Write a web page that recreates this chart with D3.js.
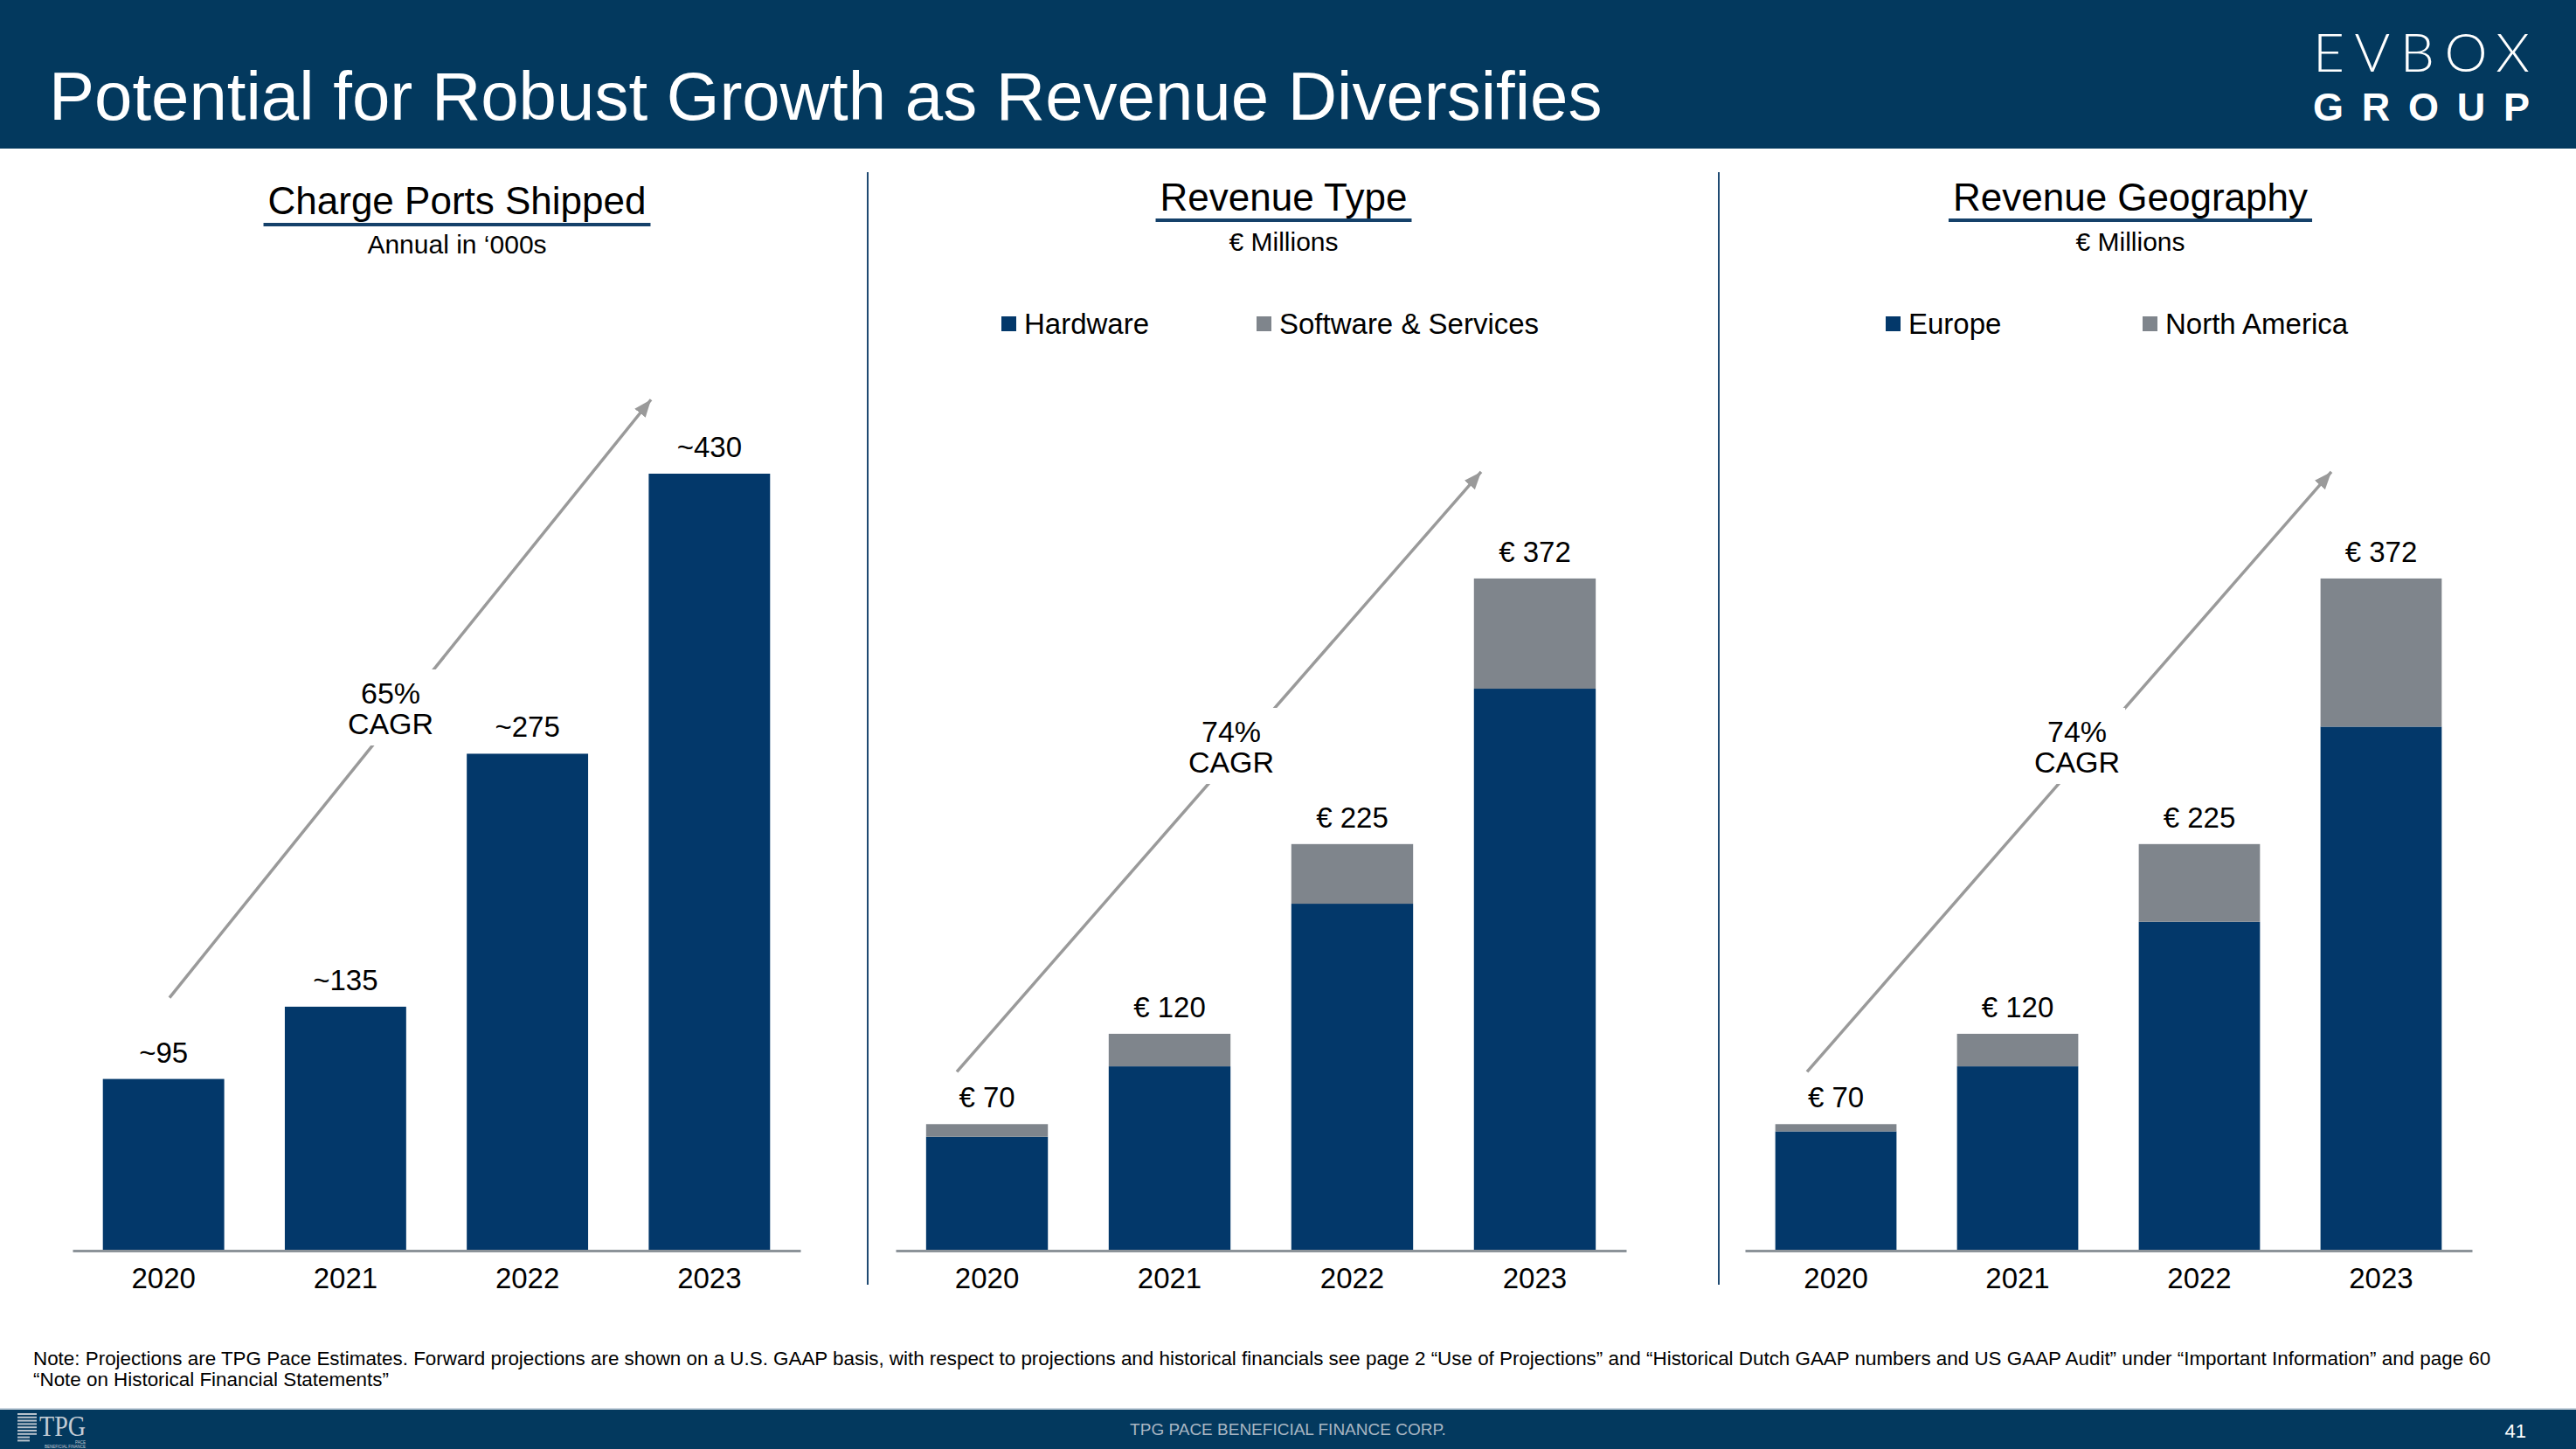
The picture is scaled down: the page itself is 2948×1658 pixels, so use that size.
<!DOCTYPE html>
<html><head><meta charset="utf-8">
<script src="https://cdn.jsdelivr.net/npm/d3@7"></script>
<style>html,body{margin:0;padding:0;background:#fff;} svg{display:block;font-family:"Liberation Sans",Arial,Helvetica,sans-serif;}</style>
</head><body>
<script>
// ---------------- DATA ----------------
const years = ["2020", "2021", "2022", "2023"];
const portsShipped = [95, 135, 275, 430];
const portsLabels = ["~95", "~135", "~275", "~430"];
const hardware = [63, 102, 192, 311];
const softwareServices = [7, 18, 33, 61];
const europe = [66, 102, 182, 290];
const northAmerica = [4, 18, 43, 82];
const revenueTotals = [70, 120, 225, 372];
const revenueLabels = ["€ 70", "€ 120", "€ 225", "€ 372"];
const cagrLabels = ["65%", "74%", "74%"];
const typeLegend = ["Hardware", "Software & Services"];
const geoLegend = ["Europe", "North America"];
const chartTitles = ["Charge Ports Shipped", "Revenue Type", "Revenue Geography"];
const chartSubtitles = ["Annual in \u2018000s", "€ Millions", "€ Millions"];

// ---------------- STYLE ----------------
const W = 2948, H = 1658;
const NAVY = "#03386a", GRAY = "#7f858c", HEAD = "#03395e", ARROW = "#9a9a9a";

const svg = d3.select("body").append("svg").attr("width", W).attr("height", H);

// header
svg.append("rect").attr("x", 0).attr("y", 0).attr("width", W).attr("height", 170).attr("fill", HEAD);
svg.append("text").attr("x", 56).attr("y", 137).attr("fill", "#fff").attr("font-size", 78)
  .text("Potential for Robust Growth as Revenue Diversifies");
svg.append("text").attr("x", 2647).attr("y", 82).attr("fill", "#fff")
  .attr("font-family", "Lato, 'Open Sans', sans-serif").attr("font-size", 62).attr("font-weight", 300)
  .attr("textLength", 248).attr("lengthAdjust", "spacing").text("EVBOX");
svg.append("text").attr("x", 2647).attr("y", 138).attr("fill", "#fff")
  .attr("font-family", "'Liberation Sans', Arial, sans-serif").attr("font-size", 45).attr("font-weight", 700)
  .attr("textLength", 248).attr("lengthAdjust", "spacing").text("GROUP");

// footer
svg.append("rect").attr("x", 0).attr("y", 1613).attr("width", W).attr("height", H - 1613).attr("fill", HEAD);
svg.append("rect").attr("x", 0).attr("y", 1611).attr("width", W).attr("height", 2).attr("fill", "#c9d4de");
svg.append("text").attr("x", 1474).attr("y", 1642).attr("text-anchor", "middle").attr("fill", "#a9b6c3")
  .attr("font-size", 19).text("TPG PACE BENEFICIAL FINANCE CORP.");
svg.append("text").attr("x", 2891).attr("y", 1645).attr("text-anchor", "end").attr("fill", "#fff")
  .attr("font-size", 22).text("41");
const tpg = svg.append("g");
d3.range(9).forEach(i => {
  tpg.append("rect").attr("x", 20).attr("y", 1617 + i * 3.8).attr("width", 22 - (i > 6 ? 8 : 0)).attr("height", 2).attr("fill", "#b8c2cc");
});
const tpgText = tpg.append("text").attr("fill", "#c3ccd5");
tpgText.append("tspan").attr("x", 45).attr("y", 1643).attr("font-family", "'Liberation Serif', serif")
  .attr("font-size", 34).attr("textLength", 53).attr("lengthAdjust", "spacingAndGlyphs").text("TPG");
tpgText.append("tspan").attr("x", 98).attr("y", 1652).attr("text-anchor", "end").attr("font-size", 4.5).text("PACE");
tpgText.append("tspan").attr("x", 98).attr("y", 1657).attr("text-anchor", "end").attr("font-size", 4.5).text("BENEFICIAL FINANCE");

// note
const note = svg.append("text").attr("x", 38).attr("font-size", 22.4).attr("fill", "#000");
note.append("tspan").attr("x", 38).attr("y", 1562)
  .text("Note: Projections are TPG Pace Estimates. Forward projections are shown on a U.S. GAAP basis, with respect to projections and historical financials see page 2 \u201CUse of Projections\u201D and \u201CHistorical Dutch GAAP numbers and US GAAP Audit\u201D under \u201CImportant Information\u201D and page 60");
note.append("tspan").attr("x", 38).attr("y", 1586).text("\u201CNote on Historical Financial Statements\u201D");

// dividers
[993, 1967].forEach(x => svg.append("line").attr("x1", x).attr("x2", x).attr("y1", 197).attr("y2", 1470)
  .attr("stroke", "#1f4a72").attr("stroke-width", 2));

// ---------------- CHARTS ----------------
const y = d3.scaleLinear().domain([0, 430]).range([1431, 542]);

const panels = [
  { xr: [83, 916], tx: 523, tb: 245, ulY: 257, sb: 290, arrow: [[194, 140], [745, 471]], cagr: [447, 805] },
  { xr: [1025, 1861], tx: 1469, tb: 241, ulY: 252, sb: 287, arrow: [[1095, 99], [1695, 431]], cagr: [1409, 849],
    legend: typeLegend, legX: [1146, 1438], stack: [hardware, softwareServices] },
  { xr: [1997, 2829], tx: 2438, tb: 241, ulY: 252, sb: 287, arrow: [[2068, 99], [2668, 431]], cagr: [2377, 849],
    legend: geoLegend, legX: [2158, 2452], stack: [europe, northAmerica] }
];

const defs = svg.append("defs");
defs.append("marker").attr("id", "ah").attr("markerUnits", "userSpaceOnUse")
  .attr("markerWidth", 24).attr("markerHeight", 20).attr("refX", 20).attr("refY", 8)
  .attr("orient", "auto")
  .append("path").attr("d", "M0,0 L20,8 L0,16 Z").attr("fill", ARROW);

panels.forEach((p, pi) => {
  const g = svg.append("g");
  // title
  const t = g.append("text").attr("x", p.tx).attr("y", p.tb).attr("text-anchor", "middle")
    .attr("font-size", 44).attr("fill", "#000").text(chartTitles[pi]);
  const bb = t.node().getBBox();
  g.append("rect").attr("x", bb.x - 5).attr("y", p.ulY - 2).attr("width", bb.width + 10).attr("height", 4).attr("fill", "#15416a");
  g.append("text").attr("x", p.tx).attr("y", p.sb).attr("text-anchor", "middle")
    .attr("font-size", 30).attr("fill", "#000").text(chartSubtitles[pi]);

  const x = d3.scaleBand().domain(years).range(p.xr).paddingInner(0.333).paddingOuter(0.1667);

  // arrow (under labels)
  g.append("line").attr("x1", p.arrow[0][0]).attr("y1", y(p.arrow[0][1]))
    .attr("x2", p.arrow[1][0]).attr("y2", y(p.arrow[1][1]))
    .attr("stroke", ARROW).attr("stroke-width", 3.5).attr("marker-end", "url(#ah)");
  const ct = g.append("text").attr("text-anchor", "middle").attr("font-size", 34).attr("fill", "#000");
  ct.append("tspan").attr("x", p.cagr[0]).attr("y", p.cagr[1]).text(cagrLabels[pi]);
  ct.append("tspan").attr("x", p.cagr[0]).attr("y", p.cagr[1] + 35).text("CAGR");
  const cb = ct.node().getBBox();
  g.append("rect").attr("x", cb.x - 6).attr("y", cb.y - 8)
    .attr("width", cb.width + 12).attr("height", cb.height + 14).attr("fill", "#fff");
  ct.raise();

  if (!p.stack) {
    g.selectAll("rect.bar").data(portsShipped).join("rect").attr("class", "bar")
      .attr("x", (d, i) => x(years[i])).attr("width", x.bandwidth())
      .attr("y", d => y(d)).attr("height", d => y(0) - y(d)).attr("fill", NAVY);
    g.selectAll("text.val").data(portsShipped).join("text").attr("class", "val")
      .attr("x", (d, i) => x(years[i]) + x.bandwidth() / 2).attr("y", d => y(d) - 19)
      .attr("text-anchor", "middle").attr("font-size", 33).text((d, i) => portsLabels[i]);
  } else {
    const rows = years.map((yr, i) => ({ year: yr, a: p.stack[0][i], b: p.stack[1][i] }));
    const series = d3.stack().keys(["a", "b"])(rows);
    const colors = [NAVY, GRAY];
    series.forEach((s, si) => {
      g.selectAll("rect.s" + si).data(s).join("rect").attr("class", "s" + si)
        .attr("x", d => x(d.data.year)).attr("width", x.bandwidth())
        .attr("y", d => y(d[1])).attr("height", d => y(d[0]) - y(d[1])).attr("fill", colors[si]);
    });
    g.selectAll("text.val").data(revenueTotals).join("text").attr("class", "val")
      .attr("x", (d, i) => x(years[i]) + x.bandwidth() / 2).attr("y", d => y(d) - 19)
      .attr("text-anchor", "middle").attr("font-size", 33).text((d, i) => revenueLabels[i]);
    // legend
    p.legend.forEach((lab, li) => {
      g.append("rect").attr("x", p.legX[li]).attr("y", 362).attr("width", 17).attr("height", 17).attr("fill", colors[li]);
      g.append("text").attr("x", p.legX[li] + 26).attr("y", 382).attr("font-size", 33).attr("fill", "#000").text(lab);
    });
  }

  const ax = g.append("g").attr("transform", `translate(0,${y(0)})`)
    .call(d3.axisBottom(x).tickSize(0).tickSizeOuter(0).tickPadding(20));
  ax.select(".domain").attr("stroke", "#8c9399").attr("stroke-width", 3);
  ax.selectAll("text").attr("font-size", 33).attr("fill", "#000")
    .attr("font-family", "'Liberation Sans', Arial, sans-serif");
});
</script>
</body></html>
